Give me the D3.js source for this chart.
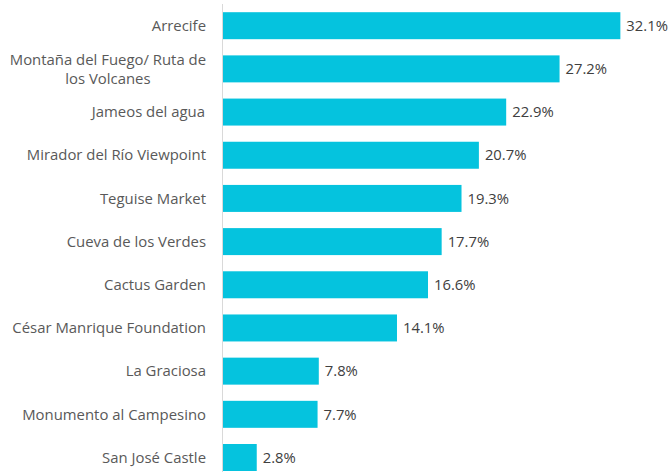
<!DOCTYPE html>
<html>
<head>
<meta charset="utf-8">
<script src="https://cdn.jsdelivr.net/npm/d3@7"></script>
<style>
  body { margin: 0; background: #fff; }
  .cat-label { font-family: "Open Sans", sans-serif; font-size: 14.9px; fill: #595959; }
  .val-label { font-family: "Open Sans", sans-serif; font-size: 14.8px; fill: #404040; }
</style>
</head>
<body>
<div id="chart"></div>
<script>
// categories, top to bottom
const categories = [
    "Arrecife",
    "Montaña del Fuego/ Ruta de|los Volcanes",
    "Jameos del agua",
    "Mirador del Río Viewpoint",
    "Teguise Market",
    "Cueva de los Verdes",
    "Cactus Garden",
    "César Manrique Foundation",
    "La Graciosa",
    "Monumento al Campesino",
    "San José Castle"
];
const values = [32.1, 27.2, 22.9, 20.7, 19.3, 17.7, 16.6, 14.1, 7.8, 7.7, 2.8];

const W = 670, H = 472;
const margin = { top: 4, right: 0, bottom: 0, left: 222 };
const width = W - margin.left - margin.right;
const height = H - margin.top - margin.bottom;

const svg = d3.select("#chart").append("svg")
    .attr("width", W)
    .attr("height", H);

const g = svg.append("g")
    .attr("transform", "translate(" + margin.left + "," + margin.top + ")");

// 12.4 px per percent
const x = d3.scaleLinear()
    .domain([0, 36.1])
    .range([0, 448]);

const y = d3.scaleBand()
    .domain(categories)
    .range([0, 43.2 * categories.length])
    .paddingInner(0.375)
    .paddingOuter(0.19);

g.selectAll(".bar")
    .data(values)
    .enter().append("rect")
    .attr("class", "bar")
    .attr("x", 0)
    .attr("y", (d, i) => y(categories[i]))
    .attr("width", d => x(d))
    .attr("height", y.bandwidth())
    .attr("fill", "#05C3DE");

// value labels
g.selectAll(".val-label")
    .data(values)
    .enter().append("text")
    .attr("class", "val-label")
    .attr("x", d => x(d) + 6)
    .attr("y", (d, i) => y(categories[i]) + y.bandwidth() / 2)
    .attr("dy", "0.35em")
    .text(d => d.toFixed(1) + "%");

// category labels (| splits lines)
const labels = g.selectAll(".cat-label")
    .data(categories)
    .enter().append("text")
    .attr("class", "cat-label")
    .attr("text-anchor", "middle")
    .attr("transform", d => "translate(-16," + (y(d) + y.bandwidth() / 2) + ")");

labels.each(function(d) {
    let lines = d.split("|");
    let t = d3.select(this);
    let lh = 19;
    lines.forEach((l, k) => {
        t.append("tspan")
            .attr("x", 0)
            .attr("y", (k - (lines.length - 1) / 2) * lh)
            .attr("dy", "0.35em")
            .text(l);
    });
});

// right edge of the widest line sits at the same place for every label
labels.each(function(d) {
    let t = d3.select(this);
    let bw = this.getBBox().width;
    t.selectAll("tspan").attr("x", -bw / 2);
});

// axis line
g.append("line")
    .attr("x1", 0.5).attr("x2", 0.5)
    .attr("y1", 0).attr("y2", height)
    .attr("stroke", "#d9d9d9")
    .attr("stroke-width", 1);
</script>
</body>
</html>
